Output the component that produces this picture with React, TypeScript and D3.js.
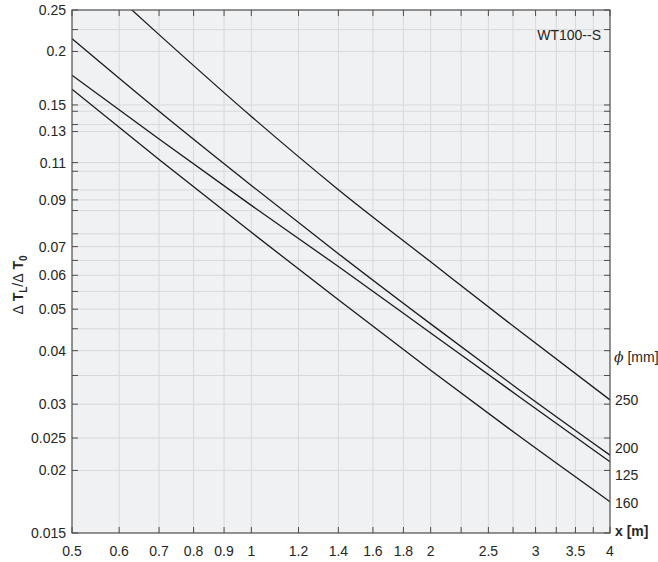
import React from 'react';
import { scaleLog, line, curveMonotoneX } from 'd3';

// x ticks (log axis), labelled and extra grid-only
const xTickValues = [0.5, 0.6, 0.7, 0.8, 0.9, 1, 1.2, 1.4, 1.6, 1.8, 2, 2.5, 3, 3.5, 4];
const xTickLabels = ['0.5', '0.6', '0.7', '0.8', '0.9', '1', '1.2', '1.4', '1.6', '1.8', '2', '2.5', '3', '3.5', '4'];
const xMinorTicks = [2.25, 2.75, 3.25, 3.75];

// y ticks (log axis); the "0.02" tick sits a bit above 0.02 in the original
const yTickValues = [0.015, 0.021, 0.025, 0.03, 0.04, 0.05, 0.06, 0.07, 0.09, 0.11, 0.13, 0.15, 0.2, 0.25];
const yTickLabels = ['0.015', '0.02', '0.025', '0.03', '0.04', '0.05', '0.06', '0.07', '0.09', '0.11', '0.13', '0.15', '0.2', '0.25'];
const yMinorTicks = [0.035, 0.045, 0.055, 0.065, 0.075, 0.085, 0.095, 0.105, 0.135, 0.145, 0.225];

// curves, diameter in mm
const seriesNames = ['250', '200', '125', '160'];
const xTop = [0.6, 0.7, 1, 1.4, 2, 2.8, 4];
const xRest = [0.5, 0.7, 1, 1.4, 2, 2.8, 4];
const y250 = [0.266, 0.219, 0.141, 0.0951, 0.0645, 0.0448, 0.0307];
const y200 = [0.2143, 0.145, 0.0973, 0.0674, 0.0462, 0.0326, 0.0228];
const y125 = [0.176, 0.1249, 0.0874, 0.0629, 0.044, 0.0314, 0.022];
const y160 = [0.1632, 0.1119, 0.0756, 0.0526, 0.036, 0.0254, 0.01775];

const font = '"Liberation Sans", Arial, Helvetica, sans-serif';
const textColor = '#262626';

export default function App() {
  const margin = { top: 10, right: 48, bottom: 29, left: 72 };
  const W = 658;
  const H = 562;
  const width = W - margin.left - margin.right;
  const height = H - margin.top - margin.bottom;

  const x = scaleLog().domain([0.5, 4]).range([0, width]);
  const y = scaleLog().domain([0.015, 0.25]).range([height, 0]);

  const path = line<[number, number]>()
    .x((d) => x(d[0]))
    .y((d) => y(d[1]))
    .curve(curveMonotoneX);

  const series = [
    { name: seriesNames[0], xs: xTop, ys: y250 },
    { name: seriesNames[1], xs: xRest, ys: y200 },
    { name: seriesNames[2], xs: xRest, ys: y125 },
    { name: seriesNames[3], xs: xRest, ys: y160 },
  ];

  const xGrid = [...xTickValues, ...xMinorTicks].filter((v) => v > 0.5 && v < 4);
  const yGrid = [...yTickValues, ...yMinorTicks].filter((v) => v > 0.015 && v < 0.25);
  const tick = 6;
  const axisColor = '#4d4d4d';

  // right-side label positions (vertical offsets tuned to avoid overlap)
  const rightLabelY = [400, 448, 475, 503];

  return (
    <svg
      width={W}
      height={H}
      style={{ position: 'absolute', left: 0, top: 0 }}
      fontFamily={font}
    >
      <g transform={`translate(${margin.left}, ${margin.top})`}>
        <rect width={width} height={height} fill="#f0f1f3" />
        <clipPath id="plot-clip">
          <rect width={width} height={height} />
        </clipPath>
        {xGrid.map((v) => (
          <line key={`xg-${v}`} x1={x(v)} x2={x(v)} y1={0} y2={height} stroke="#d9d9db" strokeWidth={1} />
        ))}
        {yGrid.map((v) => (
          <line key={`yg-${v}`} x1={0} x2={width} y1={y(v)} y2={y(v)} stroke="#d9d9db" strokeWidth={1} />
        ))}

        <g clipPath="url(#plot-clip)">
          {series.map((s) => (
            <path
              key={s.name}
              d={path(s.xs.map((xv, i) => [xv, s.ys[i]] as [number, number])) || ''}
              fill="none"
              stroke="#1a1a1a"
              strokeWidth={1.3}
            />
          ))}
        </g>

        {/* box */}
        <rect width={width} height={height} fill="none" stroke={axisColor} strokeWidth={1.2} />

        {/* x ticks bottom + top */}
        {[...xTickValues, ...xMinorTicks].map((v) => (
          <g key={`xt-${v}`}>
            <line x1={x(v)} x2={x(v)} y1={height} y2={height - tick} stroke={axisColor} />
            <line x1={x(v)} x2={x(v)} y1={0} y2={tick} stroke={axisColor} />
          </g>
        ))}
        {xTickValues.map((v, i) => (
          <text
            key={`xl-${v}`}
            x={x(v)}
            y={height + 23}
            textAnchor="middle"
            fontSize={14}
            fill={textColor}
          >
            {xTickLabels[i]}
          </text>
        ))}

        {/* y ticks left + right */}
        {[...yTickValues, ...yMinorTicks].map((v) => (
          <g key={`yt-${v}`}>
            <line x1={0} x2={tick} y1={y(v)} y2={y(v)} stroke={axisColor} />
            <line x1={width} x2={width - tick} y1={y(v)} y2={y(v)} stroke={axisColor} />
          </g>
        ))}
        {yTickValues.map((v, i) => (
          <text
            key={`yl-${v}`}
            x={-6}
            y={y(v)}
            dy="0.35em"
            textAnchor="end"
            fontSize={14}
            fill={textColor}
          >
            {yTickLabels[i]}
          </text>
        ))}

        <text x={width - 9} y={25} dy="0.35em" textAnchor="end" fontSize={14} fill={textColor}>
          WT100--S
        </text>
      </g>

      {/* right side annotations */}
      <text x={614} y={357} dy="0.35em" fontSize={14} fill={textColor}>
        <tspan fontStyle="italic" fontFamily='"DejaVu Serif", serif'>ϕ</tspan> [mm]
      </text>
      {series.map((s, i) => (
        <text key={`rl-${s.name}`} x={615} y={rightLabelY[i]} dy="0.35em" fontSize={14} fill={textColor}>
          {s.name}
        </text>
      ))}
      <text x={615} y={531} dy="0.35em" fontSize={14} fontWeight="bold" fill={textColor}>
        x [m]
      </text>

      {/* y axis label */}
      <text
        transform="translate(23, 285) rotate(-90)"
        textAnchor="middle"
        fontSize={14}
        fill={textColor}
      >
        <tspan>Δ</tspan>
        <tspan fontWeight="bold"> T</tspan>
        <tspan fontWeight="bold" fontSize={10} dy={4}>L</tspan>
        <tspan dy={-4}>/Δ</tspan>
        <tspan fontWeight="bold"> T</tspan>
        <tspan fontWeight="bold" fontSize={10} dy={4}>0</tspan>
      </text>
    </svg>
  );
}
